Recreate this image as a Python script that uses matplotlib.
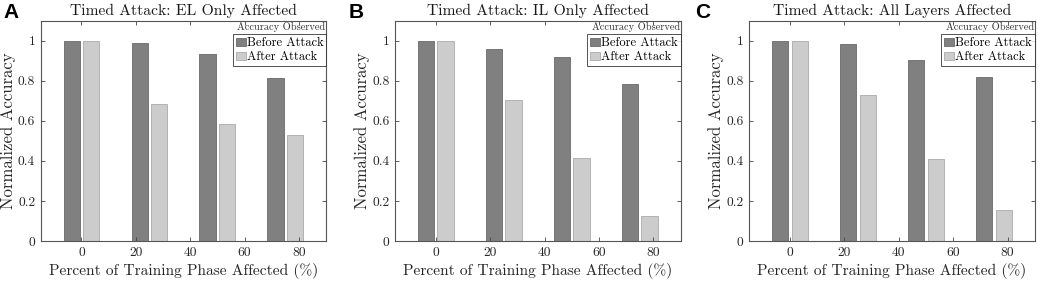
import matplotlib
matplotlib.use("Agg")
import matplotlib.pyplot as plt
import numpy as np
from matplotlib.patches import Patch

groups = [0, 25, 50, 75]
xticks = [0, 20, 40, 60, 80]
titles = ["Timed Attack: EL Only Affected",
          "Timed Attack: IL Only Affected",
          "Timed Attack: All Layers Affected"]
panel_labels = ["A", "B", "C"]
before = [
    [1.0, 0.987, 0.934, 0.815],
    [1.0, 0.960, 0.920, 0.782],
    [1.0, 0.986, 0.906, 0.818],
]
after = [
    [1.0, 0.682, 0.583, 0.527],
    [1.0, 0.705, 0.413, 0.124],
    [1.0, 0.728, 0.411, 0.155],
]
series_names = ["Before Attack", "After Attack"]
legend_title = "Accuracy Observed"
xlabel = "Percent of Training Phase Affected (%)"
ylabel = "Normalized Accuracy"

plt.rcParams['font.family'] = ['cmr10', 'DejaVu Serif']
plt.rcParams['axes.formatter.use_mathtext'] = True
plt.rcParams['mathtext.fontset'] = 'cm'

W, H = 1038, 281
fig = plt.figure(figsize=(W/100, H/100), dpi=100)
renderer = fig.canvas.get_renderer()


def fit_size(s, target_px):
    t = fig.text(0, 0, s, fontsize=10)
    w = t.get_window_extent(renderer).width
    t.remove()
    return 10.0 * target_px / w


title_fs = fit_size(titles[0], 226)
xlabel_fs = fit_size(xlabel, 269)
ylabel_fs = fit_size(ylabel, 157)
tick_fs = fit_size("80", 13.5)
leg_fs = fit_size(series_names[0], 76)
legtitle_fs = fit_size(legend_title, 88)

ax_lefts = [40.7, 395.0, 749.3]
label_x = [3, 349, 695]
ax_w = 285.5
ax_top = 20.7
ax_bot = 241.0
ax_h = ax_bot - ax_top

dark = '#808080'
light = '#cccccc'

for i in range(3):
    ax = fig.add_axes([ax_lefts[i]/W, 1 - ax_bot/H, ax_w/W, ax_h/H])
    g = np.array(groups, dtype=float)
    ax.bar(g - 3.6, before[i], width=6.0, color=dark, edgecolor='#6a6a6a', linewidth=0.6)
    ax.bar(g + 3.6, after[i], width=6.0, color=light, edgecolor='#aaaaaa', linewidth=0.6)
    ax.set_xlim(-15, 90)
    ax.set_ylim(0, 1.1)
    ax.set_xticks(xticks)
    ax.set_xticklabels([str(t) for t in xticks])
    ax.set_yticks([0, 0.2, 0.4, 0.6, 0.8, 1.0])
    ax.set_yticklabels(["0", "0.2", "0.4", "0.6", "0.8", "1"])
    ax.tick_params(direction='in', top=True, right=True, length=3, width=0.6,
                   colors='#444444', labelsize=tick_fs, labelcolor='#262626', pad=4)
    for s in ax.spines.values():
        s.set_color('#555555')
        s.set_linewidth(0.8)
    ax.set_title(titles[i], fontsize=title_fs, color='#1a1a1a', pad=4)
    ax.set_xlabel(xlabel, fontsize=xlabel_fs, color='#262626', labelpad=3)
    ax.set_ylabel(ylabel, fontsize=ylabel_fs, color='#262626')
    ax.yaxis.set_label_coords(-25.0/ax_w, 0.5)
    handles = [Patch(facecolor=dark, edgecolor='#6a6a6a', linewidth=0.6),
               Patch(facecolor=light, edgecolor='#aaaaaa', linewidth=0.6)]
    leg = ax.legend(handles, series_names, loc='upper right',
                    bbox_to_anchor=(1.0, 1 - 13.6/ax_h),
                    fontsize=leg_fs, frameon=True, fancybox=False,
                    borderpad=0.22, handlelength=0.8, handleheight=0.55,
                    handletextpad=0.1, labelspacing=0.15, borderaxespad=0.0)
    leg.get_frame().set_edgecolor('#262626')
    leg.get_frame().set_linewidth(0.7)
    ax.text(0.998, 1 - 1.5/ax_h, legend_title, transform=ax.transAxes,
            ha='right', va='top', fontsize=legtitle_fs, color='#333333')
    fig.text(label_x[i]/W, 1 - 3/H, panel_labels[i], fontsize=15,
             fontweight='bold', family='Liberation Sans', ha='left', va='top')

fig.savefig("out.png", dpi=100)
